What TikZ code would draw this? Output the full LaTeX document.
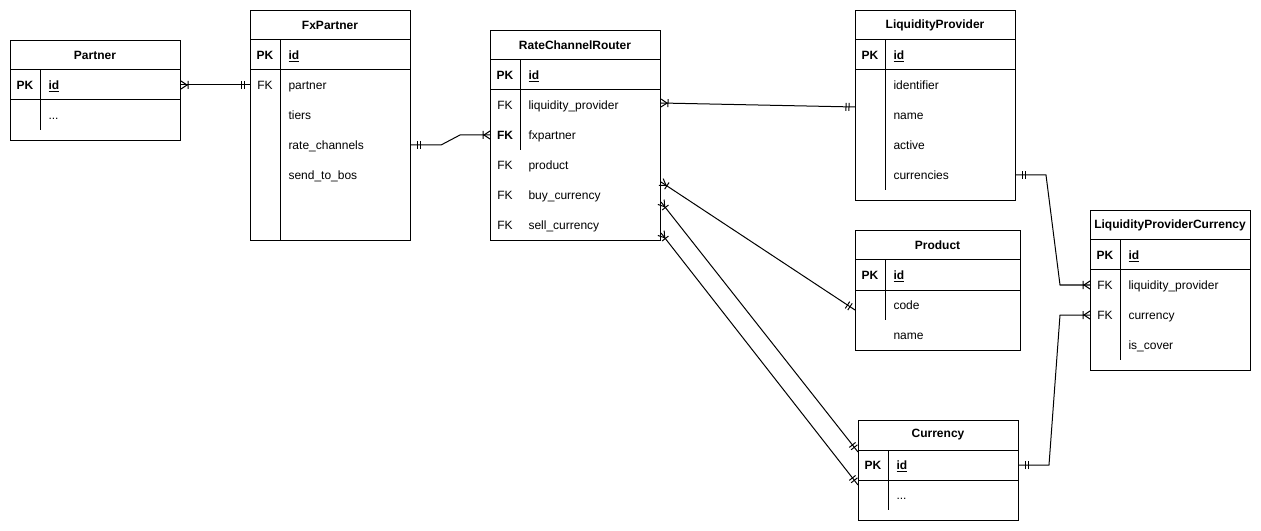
\documentclass[tikz,border=0pt]{standalone}
\usepackage{fontspec}
\setmainfont{Liberation Sans}

% crow's foot (one or many) and double bar (exactly one)
\pgfdeclarearrow{
  name = ERmany,
  setup code = {
    \pgfarrowssettipend{0pt}
    \pgfarrowssetlineend{0pt}
    \pgfarrowssetbackend{-6pt}
    \pgfarrowssetvisualbackend{-6pt}
    \pgfarrowshullpoint{0pt}{3pt}
    \pgfarrowshullpoint{0pt}{-3pt}
    \pgfarrowshullpoint{-6pt}{0pt}
  },
  drawing code = {
    \pgfpathmoveto{\pgfqpoint{0pt}{3pt}}
    \pgfpathlineto{\pgfqpoint{-4.5pt}{0pt}}
    \pgfpathlineto{\pgfqpoint{0pt}{-3pt}}
    \pgfpathmoveto{\pgfqpoint{-5.25pt}{3pt}}
    \pgfpathlineto{\pgfqpoint{-5.25pt}{-3pt}}
    \pgfusepathqstroke
  }
}
\pgfdeclarearrow{
  name = ERone,
  setup code = {
    \pgfarrowssettipend{0pt}
    \pgfarrowssetlineend{0pt}
    \pgfarrowssetbackend{-7.5pt}
    \pgfarrowssetvisualbackend{-7.5pt}
    \pgfarrowshullpoint{0pt}{3pt}
    \pgfarrowshullpoint{0pt}{-3pt}
    \pgfarrowshullpoint{-7.5pt}{0pt}
  },
  drawing code = {
    \pgfpathmoveto{\pgfqpoint{-4.5pt}{3pt}}
    \pgfpathlineto{\pgfqpoint{-4.5pt}{-3pt}}
    \pgfpathmoveto{\pgfqpoint{-6.75pt}{3pt}}
    \pgfpathlineto{\pgfqpoint{-6.75pt}{-3pt}}
    \pgfusepathqstroke
  }
}

\tikzset{
  tbl/.style={draw, anchor=north west, inner sep=0pt},
  title/.style={font=\fontsize{9pt}{11pt}\selectfont\bfseries},
  key/.style={inner sep=0pt, text height=1.5ex, text depth=.25ex, font=\fontsize{9pt}{11pt}\selectfont},
  pk/.style={key, font=\fontsize{9pt}{11pt}\selectfont\bfseries},
  field/.style={anchor=west, inner sep=0pt, text height=1.5ex, text depth=.25ex, font=\fontsize{9pt}{11pt}\selectfont},
  rel/.style={ERmany-ERone},
}

\begin{document}
\begin{tikzpicture}[x=0.75pt, y=-0.75pt, line width=0.75pt]
\useasboundingbox (0,0) rectangle (1261,531);

% Partner
\node[tbl, minimum width=127.5pt, minimum height=75pt] (partner) at (10,40) {};
\draw (10,70) -- (180,70) (10,100) -- (180,100) (40,70) -- (40,130);
\node[title] (partner-title) at (95,55) {Partner};
\node[pk] (partner-pk) at (25,85) {PK};
\node[field] (partner-id) at (48,85) {\textbf{\underline{id}}};
\node[field] (partner-more) at (48,115) {...};

% FxPartner
\node[tbl, minimum width=120pt, minimum height=172.5pt] (fxpartner) at (250,10) {};
\draw (250,40) -- (410,40) (250,70) -- (410,70) (280,40) -- (280,240);
\node[title] (fxp-title) at (330,25) {FxPartner};
\node[pk] (fxp-pk) at (265,55) {PK};
\node[field] (fxp-id) at (288,55) {\textbf{\underline{id}}};
\node[key] (fxp-fk) at (265,85) {FK};
\node[field] (fxp-partner) at (288,85) {partner};
\node[field] (fxp-tiers) at (288,115) {tiers};
\node[field] (fxp-rate) at (288,145) {rate\_channels};
\node[field] (fxp-send) at (288,175) {send\_to\_bos};

% RateChannelRouter
\node[tbl, minimum width=127.5pt, minimum height=157.5pt] (rcr) at (490,30) {};
\draw (490,60) -- (660,60) (490,90) -- (660,90) (520,60) -- (520,150);
\node[title] (rcr-title) at (575,45) {RateChannelRouter};
\node[pk] (rcr-pk) at (505,75) {PK};
\node[field] (rcr-id) at (528,75) {\textbf{\underline{id}}};
\node[key] (rcr-fk1) at (505,105) {FK};
\node[field] (rcr-lp) at (528,105) {liquidity\_provider};
\node[pk] (rcr-fk2) at (505,135) {FK};
\node[field] (rcr-fxp) at (528,135) {fxpartner};
\node[key] (rcr-fk3) at (505,165) {FK};
\node[field] (rcr-product) at (528,165) {product};
\node[key] (rcr-fk4) at (505,195) {FK};
\node[field] (rcr-buy) at (528,195) {buy\_currency};
\node[key] (rcr-fk5) at (505,225) {FK};
\node[field] (rcr-sell) at (528,225) {sell\_currency};

% LiquidityProvider
\node[tbl, minimum width=120pt, minimum height=142.5pt] (lp) at (855,10) {};
\draw (855,40) -- (1015,40) (855,70) -- (1015,70) (885,40) -- (885,190);
\node[title] (lp-title) at (935,25) {LiquidityProvider};
\node[pk] (lp-pk) at (870,55) {PK};
\node[field] (lp-id) at (893,55) {\textbf{\underline{id}}};
\node[field] (lp-identifier) at (893,85) {identifier};
\node[field] (lp-name) at (893,115) {name};
\node[field] (lp-active) at (893,145) {active};
\node[field] (lp-currencies) at (893,175) {currencies};

% Product
\node[tbl, minimum width=123.75pt, minimum height=90pt] (product) at (855,230) {};
\draw (855,260) -- (1020,260) (855,290) -- (1020,290) (885,260) -- (885,320);
\node[title] (prod-title) at (937.5,245) {Product};
\node[pk] (prod-pk) at (870,275) {PK};
\node[field] (prod-id) at (893,275) {\textbf{\underline{id}}};
\node[field] (prod-code) at (893,305) {code};
\node[field] (prod-name) at (893,335) {name};

% Currency
\node[tbl, minimum width=120pt, minimum height=75pt] (currency) at (858,420) {};
\draw (858,450) -- (1018,450) (858,480) -- (1018,480) (888,450) -- (888,510);
\node[title] (cur-title) at (938,435) {Currency};
\node[pk] (cur-pk) at (873,465) {PK};
\node[field] (cur-id) at (896,465) {\textbf{\underline{id}}};
\node[field] (cur-more) at (896,495) {...};

% LiquidityProviderCurrency
\node[tbl, minimum width=120pt, minimum height=120pt] (lpc) at (1090,210) {};
\draw (1090,240) -- (1250,240) (1090,270) -- (1250,270) (1120,240) -- (1120,360);
\node[title] (lpc-title) at (1170,225) {LiquidityProviderCurrency};
\node[pk] (lpc-pk) at (1105,255) {PK};
\node[field] (lpc-id) at (1128,255) {\textbf{\underline{id}}};
\node[key] (lpc-fk1) at (1105,285) {FK};
\node[field] (lpc-lp) at (1128,285) {liquidity\_provider};
\node[key] (lpc-fk2) at (1105,315) {FK};
\node[field] (lpc-cur) at (1128,315) {currency};
\node[field] (lpc-cover) at (1128,345) {is\_cover};

% relations
\draw[rel] (partner.east |- partner-id) -- (fxpartner.west |- fxp-partner);
\draw[rel] (rcr.west |- rcr-fxp) -- ++(-30,0) -- ([xshift=22.5pt]fxpartner.east |- fxp-rate) -- (fxpartner.east |- fxp-rate);
\draw[rel] ([yshift=1.5pt]rcr.east |- rcr-lp) -- ([yshift=-1.5pt]lp.west |- rcr-lp);
\draw[rel] ([yshift=-12.75pt]rcr.east |- rcr-product) -- ([yshift=-3.75pt]product.west |- prod-code);
\draw[rel] ([yshift=-5.25pt]rcr.east |- rcr-buy) -- ([yshift=9.75pt]currency.west |- cur-id);
\draw[rel] ([yshift=-6pt]rcr.east |- rcr-sell) -- ([yshift=7.5pt]currency.west |- cur-more);
\draw[rel] (lpc.west |- lpc-lp) -- ++(-30,0) -- ([xshift=22.5pt]lp.east |- lp-currencies) -- (lp.east |- lp-currencies);
\draw[rel] (lpc.west |- lpc-cur) -- ++(-30,0) -- ([xshift=22.5pt]currency.east |- cur-id) -- (currency.east |- cur-id);
\end{tikzpicture}
\end{document}
